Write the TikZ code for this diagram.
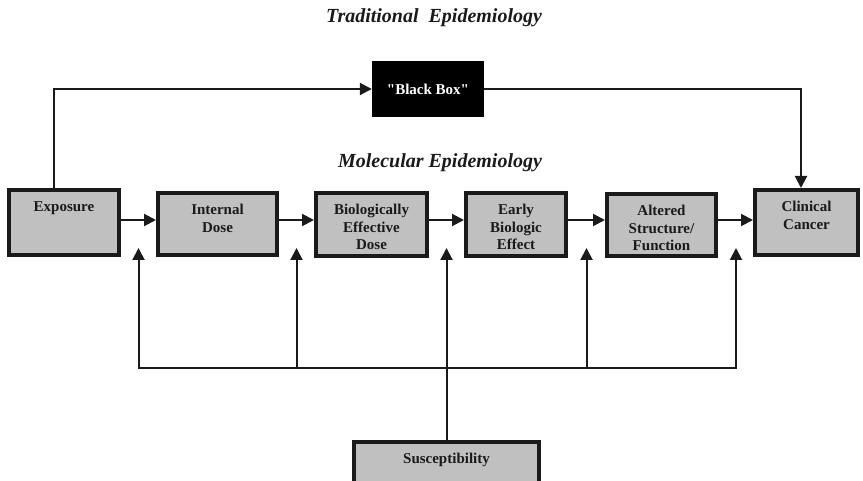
\documentclass[tikz,border=0pt]{standalone}
\usepackage{fontspec}
\setmainfont{Liberation Serif}[Ligatures=TeXOff]
\usetikzlibrary{arrows.meta}
\definecolor{boxgray}{HTML}{C0C0C0}
\definecolor{ink}{HTML}{1A1A1A}
\tikzset{
 stagebox/.style={draw=ink, line width=4pt, fill=boxgray, inner sep=0pt, text=ink,
   font=\bfseries\fontsize{15}{17.5}\selectfont},
 conn/.style={draw=ink, line width=2pt},
 arr/.style={conn, -{Triangle[length=12pt,width=12pt]}},
 titletext/.style={font=\bfseries\itshape\fontsize{20}{24}\selectfont, text=ink}
}
\newcommand{\boxtxt}[3]{\parbox[c][#2pt][t]{#1pt}{\centering\vspace*{11.5pt}#3}}
\begin{document}
\begin{tikzpicture}[x=1pt,y=-1pt]
\useasboundingbox (0,0) rectangle (863,481);
\clip (0,0) rectangle (863,481);
% titles
\node[titletext] (trad) at (434,18) {Traditional\ \ Epidemiology};
\node[titletext] (mol) at (440,163) {Molecular Epidemiology};
% boxes
\node[stagebox] (exp) at (64,222.5) {\boxtxt{110}{65}{Exposure}};
\node[stagebox] (int) at (217.5,224) {\boxtxt{119}{62}{Internal\\Dose}};
\node[stagebox] (bed) at (371.5,224.5) {\boxtxt{111}{63}{Biologically\\Effective\\Dose}};
\node[stagebox] (ebe) at (516,224.5) {\boxtxt{100}{63}{Early\\Biologic\\Effect}};
\node[stagebox] (asf) at (661.5,225) {\boxtxt{109}{62}{Altered\\Structure/\\Function}};
\node[stagebox] (cli) at (806.5,222.5) {\boxtxt{103}{65}{Clinical\\Cancer}};
\node[stagebox] (sus) at (446.5,472) {\boxtxt{185}{60}{Susceptibility}};
\node[fill=black, minimum width=112pt, minimum height=56pt, inner sep=0pt, text=white,
  font=\bfseries\fontsize{15}{18}\selectfont] (bb) at (428,89) {"Black Box"};
% top path
\coordinate (tl) at (54,89);
\coordinate (tr) at (801,89);
\draw[arr] (exp.north -| tl) -- (tl) -- (bb.west);
\draw[arr] (bb.east) -- (tr) -- (cli.north -| tr);
% main chain
\coordinate (row) at (0,220);
\draw[arr] (exp.east |- row) -- (int.west |- row);
\draw[arr] (int.east |- row) -- (bed.west |- row);
\draw[arr] (bed.east |- row) -- (ebe.west |- row);
\draw[arr] (ebe.east |- row) -- (asf.west |- row);
\draw[arr] (asf.east |- row) -- (cli.west |- row);
% susceptibility
\coordinate (g1) at (138.5,248);
\coordinate (g2) at (296.5,248);
\coordinate (g3) at (446.5,248);
\coordinate (g4) at (586.5,248);
\coordinate (g5) at (736,248);
\coordinate (hub) at (446.5,368);
\draw[arr] (hub) -| (g1);
\draw[arr] (hub) -| (g5);
\draw[arr] (g2 |- hub) -- (g2);
\draw[arr] (g4 |- hub) -- (g4);
\draw[arr] (sus.north) -- (g3);
\end{tikzpicture}
\end{document}
